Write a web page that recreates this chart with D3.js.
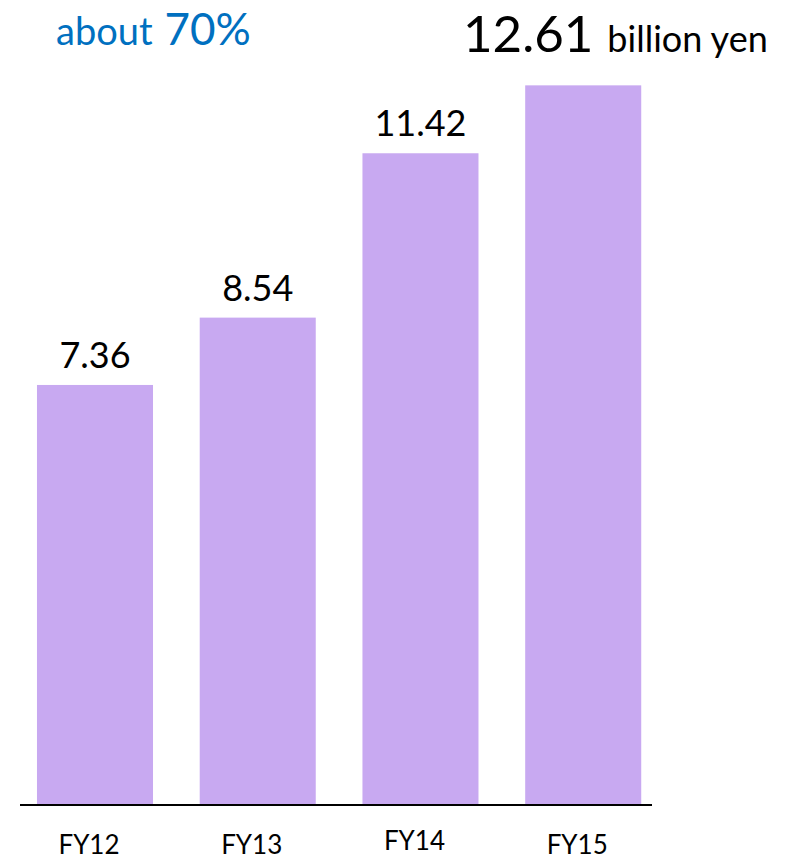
<!DOCTYPE html>
<html>
<head>
<meta charset="utf-8">
<script src="https://cdn.jsdelivr.net/npm/d3@7"></script>
<style>
  html, body { margin: 0; padding: 0; background: #fff; }
  svg { display: block; font-family: Lato, "Open Sans", sans-serif; }
</style>
</head>
<body>
<svg id="chart" width="797" height="861"></svg>
<script>
// Net sales by fiscal year (billion yen)
const categories = ["FY12", "FY13", "FY14", "FY15"];
const values = [7.36, 8.54, 11.42, 12.61];
const valueLabels = ["7.36", "8.54", "11.42", "12.61"];
const unitLabel = "billion yen";
const growthPrefix = "about";
const growthValue = "70%";

const svg = d3.select("#chart");
const baseY = 805;

const x = d3.scaleBand()
  .domain(categories)
  .range([13.7, 664.5])
  .paddingInner(0.287)
  .paddingOuter(0.143);

const y = d3.scaleLinear()
  .domain([0, 13])
  .range([baseY, baseY - 13 * 57.07]);

// bars
svg.append("g").selectAll("rect")
  .data(values)
  .join("rect")
  .attr("x", (d, i) => x(categories[i]))
  .attr("y", d => y(d))
  .attr("width", x.bandwidth())
  .attr("height", d => y(0) - y(d))
  .attr("fill", "#c8a9f1");

// baseline
svg.append("line")
  .attr("x1", 20).attr("x2", 652)
  .attr("y1", baseY).attr("y2", baseY)
  .attr("stroke", "#000").attr("stroke-width", 2);

// category labels (FY14 sits slightly higher)
svg.append("g").selectAll("text")
  .data(categories)
  .join("text")
  .attr("x", d => x(d) + x.bandwidth() / 2 - 6)
  .attr("y", d => d === "FY14" ? 850 : 854)
  .attr("text-anchor", "middle")
  .attr("font-size", 26)
  .attr("fill", "#000")
  .text(d => d);

// value labels for the first three bars
svg.append("g").selectAll("text")
  .data(values.slice(0, 3))
  .join("text")
  .attr("x", (d, i) => x(categories[i]) + x.bandwidth() / 2)
  .attr("y", d => y(d) - 17)
  .attr("text-anchor", "middle")
  .attr("font-size", 36)
  .attr("fill", "#000")
  .text((d, i) => valueLabels[i]);

// headline value with unit
const head = svg.append("text")
  .attr("x", 463)
  .attr("y", 52)
  .attr("fill", "#000");
head.append("tspan").attr("font-size", 51).text(valueLabels[3]);
head.append("tspan").attr("font-size", 36).attr("dx", 14).text(unitLabel);

// growth note
const note = svg.append("text")
  .attr("x", 56)
  .attr("y", 45)
  .attr("fill", "#0070c0");
note.append("tspan").attr("font-size", 38).text(growthPrefix);
note.append("tspan").attr("font-size", 44).attr("dx", 12).text(growthValue);
</script>
</body>
</html>
